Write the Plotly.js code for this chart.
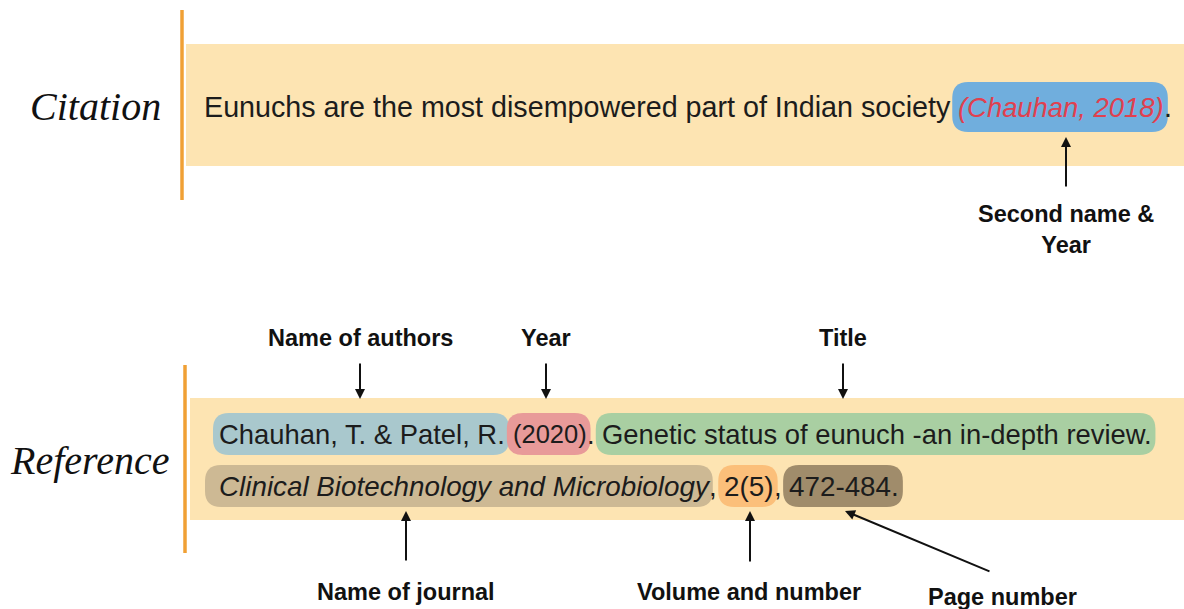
<!DOCTYPE html>
<html>
<head>
<meta charset="utf-8">
<script src="https://cdn.plot.ly/plotly-3.0.1.min.js"></script>
<style>html,body{margin:0;padding:0;background:#fff;}#chart{width:1184px;height:609px;}</style>
</head>
<body>
<div id="chart"></div>
<script>
// ---- content ----
const sectionLabels = ["Citation", "Reference"];
const citationSegments = ["Eunuchs are the most disempowered part of Indian society", " ", "(Chauhan, 2018)", "."];
const refLine1Segments = ["Chauhan, T. & Patel, R.", " ", "(2020)", ". ", "Genetic status of eunuch -an in-depth review."];
const refLine2Segments = ["Clinical Biotechnology and Microbiology", ", ", "2(5)", ", ", "472-484."];
const partLabels = ["Second name &<br>Year", "Name of authors", "Year", "Title", "Name of journal", "Volume and number", "Page number"];

// ---- layout / style config ----
const FONT = "Liberation Sans, Arial, Helvetica, sans-serif";
const TXT = "#1c1c1c";
const cfg = {
  citation: {x0: 203, y: 107, size: 28.7,
    styles: [{}, null, {italic: true, color: "#E0404F", pill: "#70AEDD", py: 25, size: 27.4}, {}]},
  line1: {x0: 218, y: 434, size: 27.4,
    styles: [{pill: "#A9C8CD", py: 21}, null, {pill: "#E89A99", py: 21, size: 25.5}, {}, {pill: "#A9CFA2", py: 21}]},
  line2: {x0: 218, y: 486, size: 27.8,
    styles: [{italic: true, pill: "#CDB994", py: 21, padL: 13}, {}, {pill: "#FBBF7A", py: 21}, {}, {pill: "#A08C6B", py: 21}]}
};

const canvas = document.createElement("canvas");
const ctx = canvas.getContext("2d");
function measure(t, size, italic) {
  ctx.font = (italic ? "italic " : "") + size + "px 'Liberation Sans'";
  return ctx.measureText(t).width;
}
function roundRect(x0, y0, x1, y1, r) {
  return `M ${x0 + r},${y0} L ${x1 - r},${y0} Q ${x1},${y0} ${x1},${y0 + r} L ${x1},${y1 - r} Q ${x1},${y1} ${x1 - r},${y1} L ${x0 + r},${y1} Q ${x0},${y1} ${x0},${y1 - r} L ${x0},${y0 + r} Q ${x0},${y0} ${x0 + r},${y0} Z`;
}

const shapes = [];
const annotations = [];

// bands
shapes.push({type: "rect", xref: "x", yref: "y", x0: 186, x1: 1184, y0: 44, y1: 166, fillcolor: "#FDE4B2", line: {width: 0}, layer: "below"});
shapes.push({type: "rect", xref: "x", yref: "y", x0: 190, x1: 1184, y0: 398, y1: 520, fillcolor: "#FDE4B2", line: {width: 0}, layer: "below"});
// orange vertical rules
shapes.push({type: "line", xref: "x", yref: "y", x0: 182, x1: 182, y0: 10, y1: 200, line: {color: "#F0A035", width: 3.5}});
shapes.push({type: "line", xref: "x", yref: "y", x0: 185, x1: 185, y0: 365, y1: 553, line: {color: "#F0A035", width: 3.5}});

function layoutLine(segs, c) {
  let x = c.x0;
  segs.forEach((s, i) => {
    const st = c.styles[i];
    const size = (st && st.size) || c.size;
    const w = measure(s, size, st && st.italic);
    if (st) {
      if (st.pill) {
        const padL = st.padL || 5, padR = 5;
        shapes.push({type: "path", xref: "x", yref: "y", path: roundRect(x - padL, c.y - st.py, x + w + padR, c.y + st.py, 16),
          fillcolor: st.pill, line: {width: 0}, layer: "below"});
      }
      annotations.push({x: x, y: c.y, xref: "x", yref: "y", xanchor: "left", yanchor: "middle", showarrow: false,
        borderpad: 0, text: s.trim(),
        font: {family: FONT, size: size, color: st.color || TXT, style: st.italic ? "italic" : "normal"}});
    }
    x += w;
  });
}
layoutLine(citationSegments, cfg.citation);
layoutLine(refLine1Segments, cfg.line1);
layoutLine(refLine2Segments, cfg.line2);

// section labels (script-like)
annotations.push({x: 95, y: 106, xref: "x", yref: "y", showarrow: false, text: sectionLabels[0],
  font: {family: "Liberation Serif, DejaVu Serif, serif", size: 40, style: "italic", color: "#111"}});
annotations.push({x: 89, y: 460, xref: "x", yref: "y", showarrow: false, text: sectionLabels[1],
  font: {family: "Liberation Serif, DejaVu Serif, serif", size: 40, style: "italic", color: "#111"}});

// part labels and arrows
const labelPos = [[1066, 229], [360, 338], [546, 338], [843, 338], [406, 592], [749, 592], [1002, 597]];
const arrows = [
  [1066, 188, 1066, 137],
  [360, 362, 360, 399],
  [546, 362, 546, 399],
  [843, 362, 843, 399],
  [406, 562, 406, 511],
  [750, 563, 750, 511],
  [991, 572, 845, 511]
];
partLabels.forEach((t, i) => {
  annotations.push({x: labelPos[i][0], y: labelPos[i][1], xref: "x", yref: "y", showarrow: false, text: t,
    font: {family: FONT, size: 23.5, weight: "bold", color: "#111"}});
});
arrows.forEach(a => {
  annotations.push({x: a[2], y: a[3], ax: a[0], ay: a[1], xref: "x", yref: "y", axref: "x", ayref: "y",
    text: "", showarrow: true, arrowhead: 2, arrowsize: 1, arrowwidth: 2, arrowcolor: "#111", standoff: 0, startstandoff: 0});
});

const layout = {
  width: 1184, height: 609,
  margin: {l: 0, r: 0, t: 0, b: 0},
  paper_bgcolor: "#ffffff", plot_bgcolor: "#ffffff",
  xaxis: {range: [0, 1184], visible: false, fixedrange: true},
  yaxis: {range: [609, 0], visible: false, fixedrange: true},
  showlegend: false,
  shapes: shapes,
  annotations: annotations
};
Plotly.newPlot("chart", [{x: [], y: [], type: "scatter", mode: "markers"}], layout, {displayModeBar: false, staticPlot: true});
</script>
</body>
</html>
